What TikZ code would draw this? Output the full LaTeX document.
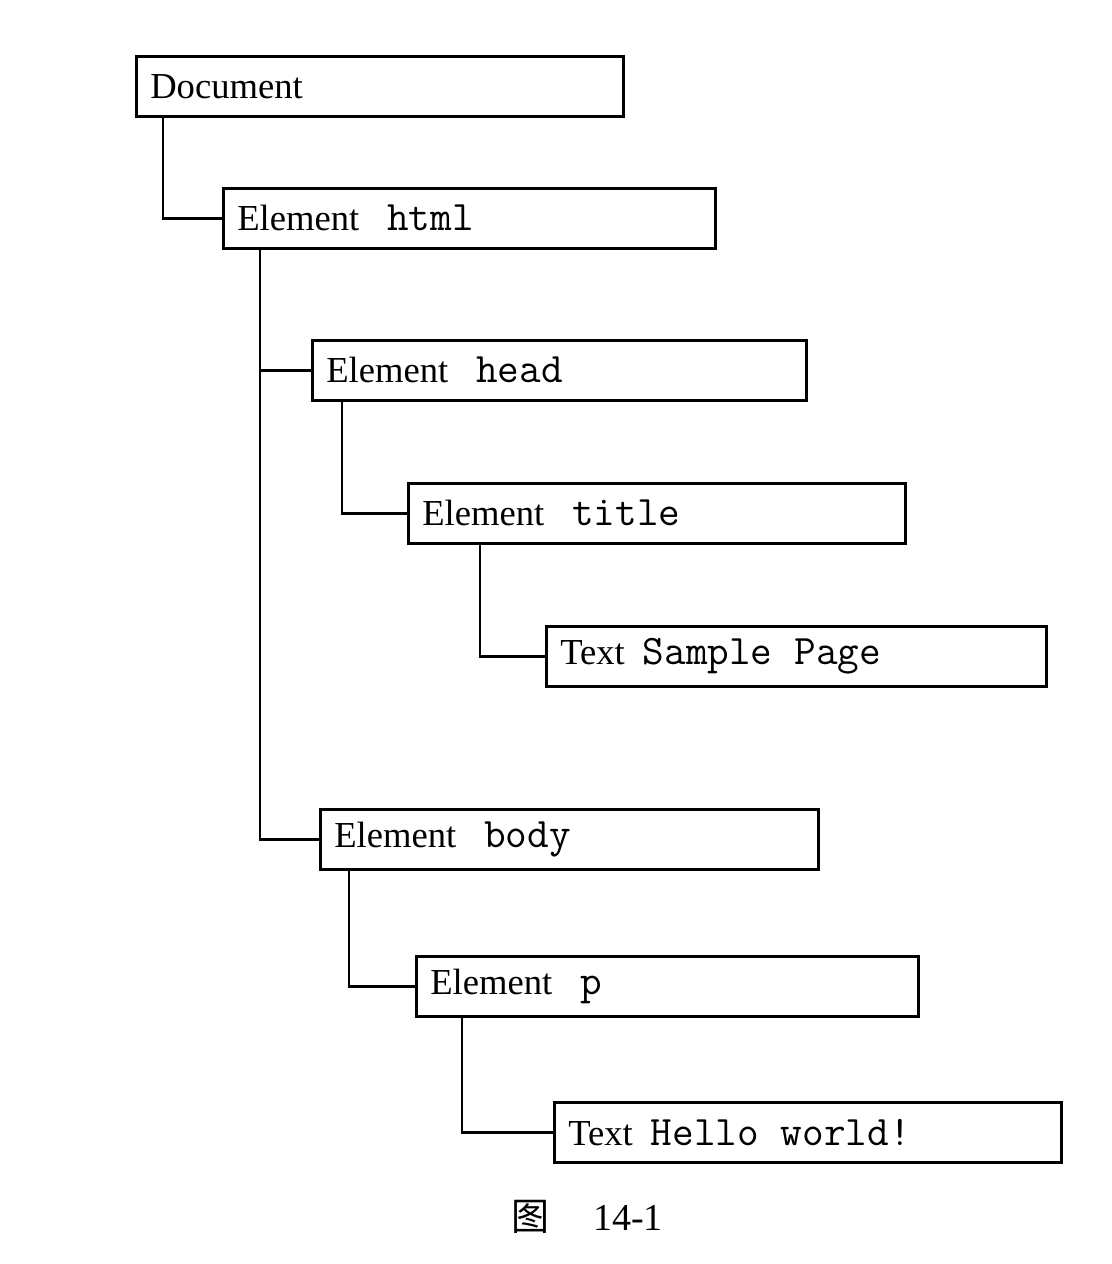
\documentclass[tikz,border=0pt]{standalone}
\usepackage{fontspec}
\setmainfont{Liberation Serif}
\newfontfamily\cjk{Noto Sans CJK SC}
\newcommand{\mono}[1]{{\ttfamily\fontsize{21}{22}\selectfont #1}}
\newcommand{\msp}{\hspace{11pt}}
\begin{document}
\begin{tikzpicture}[x=0.5pt,y=-0.5pt,
  box/.style={draw, line width=1.3pt, rectangle, anchor=north west,
    minimum height=30pt, inner xsep=7pt, inner ysep=3pt, align=left,
    font=\fontsize{18.3}{20}\selectfont},
  conn/.style={line width=1.4pt}]
\useasboundingbox[fill=white] (0,0) rectangle (1112,1264);
\node[box,text width=229.5pt] (doc) at (135,55) {Document};
\node[box,text width=232pt] (html) at (222,187) {Element\hspace{14pt}\mono{html}};
\node[box,text width=233pt] (head) at (311,339) {Element\hspace{14pt}\mono{head}};
\node[box,text width=234.5pt] (title) at (407,482) {Element\hspace{14pt}\mono{title}};
\node[box,text width=236pt] (sample) at (545,625) {Text\hspace{9pt}\mono{Sample\msp Page}};
\node[box,text width=235pt] (body) at (319,808) {Element\hspace{14pt}\mono{body}};
\node[box,text width=237pt] (p) at (415,955) {Element\hspace{14pt}\mono{p}};
\node[box,text width=239.5pt] (hello) at (553,1101) {Text\hspace{9pt}\mono{Hello\msp world!}};
\coordinate (dj) at ([xshift=14pt]doc.south west);
\draw[conn] (dj) |- (html.west);
\coordinate (hj) at ([xshift=19pt]html.south west);
\draw[conn] (hj) |- (body.west);
\draw[conn] (hj |- head.west) -- (head.west);
\coordinate (hdj) at ([xshift=15.5pt]head.south west);
\draw[conn] (hdj) |- (title.west);
\coordinate (tj) at ([xshift=36.5pt]title.south west);
\draw[conn] (tj) |- (sample.west);
\coordinate (bj) at ([xshift=15pt]body.south west);
\draw[conn] (bj) |- (p.west);
\coordinate (pj) at ([xshift=23.5pt]p.south west);
\draw[conn] (pj) |- (hello.west);
\node[font=\fontsize{19}{22}\selectfont] (cap) at (587,1217) {{\cjk 图}\hspace{22pt}14-1};
\end{tikzpicture}
\end{document}
